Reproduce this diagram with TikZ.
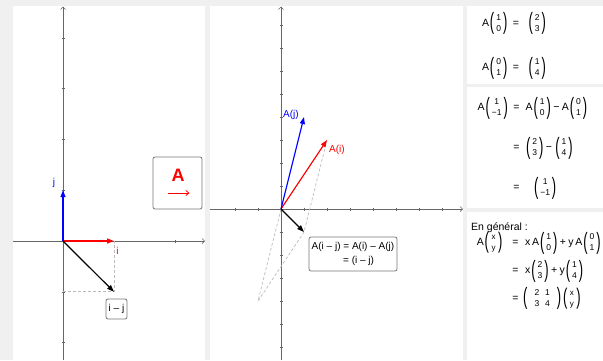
\documentclass[tikz,border=0pt]{standalone}
\usepackage{fontspec}
\setmainfont{Liberation Sans}
\usetikzlibrary{arrows.meta}
\definecolor{bgc}{HTML}{F0F0F0}
\definecolor{axc}{HTML}{666666}
\definecolor{dshc}{HTML}{BBBBBB}
\definecolor{boxc}{HTML}{777777}
% parentheses of given height
\newcommand{\mylp}[1]{\vcenter{\hbox{\resizebox*{4.3pt}{#1}{(}}}}
\newcommand{\myrp}[1]{\vcenter{\hbox{\resizebox*{4.3pt}{#1}{)}}}}
% column vector with digits
\newcommand{\vc}[2]{\mbox{\hspace{0.8pt}$\mylp{22pt}\vcenter{\hbox{\fontsize{8.5}{11}\selectfont\begin{tabular}{@{\hspace{2pt}}c@{\hspace{2pt}}}#1\\#2\end{tabular}}}\myrp{22pt}$}}
% column vector with letters
\newcommand{\vxy}{\mbox{\hspace{0.8pt}$\mylp{21pt}\vcenter{\hbox{\fontsize{8}{11}\selectfont\begin{tabular}{@{\hspace{2.5pt}}c@{\hspace{2.5pt}}}x\\y\end{tabular}}}\myrp{21pt}$}}
\newcommand{\mtwo}[4]{\mbox{$\mylp{22pt}\vcenter{\hbox{\fontsize{8.5}{11}\selectfont\begin{tabular}{@{\hspace{7pt}}c@{\hspace{6pt}}c@{\hspace{7pt}}}#1&#2\\#3&#4\end{tabular}}}\myrp{22pt}$}}
\newcommand{\mn}{\hspace{2.5pt}−\hspace{2.5pt}}
\newcommand{\pl}{\hspace{2.5pt}+\hspace{2.5pt}}
\tikzset{
  vec/.style={line width=1.2pt,-{Triangle[length=7pt,width=5pt]}},
  axis/.style={axc,line width=0.7pt,-{Straight Barb[length=2.5pt,width=5pt]}},
  tick/.style={axc,line width=0.6pt},
  helper/.style={dshc,line width=0.7pt,dash pattern=on 3pt off 2pt},
  lbl/.style={font=\fontsize{10}{12}\selectfont,inner sep=0pt},
  labbox/.style={draw=boxc,line width=0.8pt,rounded corners=2pt,fill=white},
  eq/.style={font=\fontsize{10.5}{12}\selectfont,inner sep=0pt}
}
\begin{document}
\begin{tikzpicture}[x=1pt,y=-1pt]
\useasboundingbox (0,0) rectangle (603,360);
% background and panels
\fill[bgc] (0,0) rectangle (603,360);
\fill[white] (13,6) rectangle (205,360);
\fill[white] (210,6) rectangle (463,360);
\fill[white] (467,6) rectangle (603,84);
\fill[white] (467,87) rectangle (603,208);
\fill[white] (467,212) rectangle (603,360);

% ---------- left panel ----------
\coordinate (O1) at (63,241);
\coordinate (I1) at (114,241);
\coordinate (J1) at (63,190.2);
\coordinate (IJ1) at (114,291.8);
\coordinate (X1a) at (13,241);
\coordinate (X1b) at (205,241);
\coordinate (Y1a) at (63,360);
\coordinate (Y1b) at (63,6.5);
\draw[axis] (X1a) -- (X1b);
\draw[axis] (Y1a) -- (Y1b);
\foreach \k in {-2,-1,1,2,3,4}
  \draw[tick] ({61.5},{241-50.8*\k}) -- ++(3,0);
\draw[tick] (175.7,239.5) -- ++(0,3);
\coordinate (H1) at (63,291.8);
\draw[helper] (H1) -- (IJ1) -- (I1);
\draw[vec,red] (O1) -- (I1);
\draw[vec,blue] (O1) -- (J1);
\draw[vec,black] (O1) -- (IJ1);
\node[lbl,text=blue] (jl) at (54,183) {j};
\node[lbl,text=red] (il) at (117.5,251) {i};
\node[labbox,minimum width=21pt,minimum height=20pt,inner sep=1pt,font=\fontsize{10}{12}\selectfont] (ijbox) at (116.5,309) {i – j};
% A box
\node[labbox,minimum width=49pt,minimum height=52pt,inner sep=0pt] (Abox) at (177.5,183) {};
\node[inner sep=0pt,text=red,font=\fontsize{18}{20}\selectfont\bfseries] (Aletter) at (178,175.5) {A};
\coordinate (ar1) at (168,193);
\coordinate (ar2) at (189.5,193);
\draw[red,line width=0.8pt,-{Straight Barb[length=3pt,width=5pt]}] (ar1) -- (ar2);

% ---------- middle panel ----------
\coordinate (O2) at (281,209);
\coordinate (Ai) at (327,140);
\coordinate (Aj) at (304,117);
\coordinate (Aij) at (304,232);
\coordinate (nAj) at (258,301);
\coordinate (X2a) at (210,209);
\coordinate (X2b) at (463,209);
\coordinate (Y2a) at (281,360);
\coordinate (Y2b) at (281,6.5);
\draw[axis] (X2a) -- (X2b);
\draw[axis] (Y2a) -- (Y2b);
\foreach \k in {-2,-1,1,2,3,4,5,6,7}
  \draw[tick] ({281+23*\k},207.5) -- ++(0,3);
\foreach \k in {-6,-5,-4,-3,-2,-1,1,2,3,4,5,6,7,8}
  \draw[tick] (279.5,{209-23*\k}) -- ++(3,0);
\draw[helper] (O2) -- (nAj) -- (Aij) -- (Ai);
\draw[vec,red] (O2) -- (Ai);
\draw[vec,blue] (O2) -- (Aj);
\draw[vec,black] (O2) -- (Aij);
\node[lbl,text=blue] (Ajl) at (291,115) {A(j)};
\node[lbl,text=red] (Ail) at (337,150) {A(i)};
\node[labbox,minimum width=88pt,minimum height=34pt,inner sep=0pt] (mbox) at (353,254) {};
\node[lbl] (ml1) at (353,247) {A(i – j) = A(i) – A(j)};
\node[lbl,anchor=west] (ml2) at (343,261) {= (i – j)};

% ---------- right panel 1 ----------
\node[eq,anchor=east] (r1l) at (507.5,23.5) {A\vc{1}{0}};
\node[eq] (r1e) at (516,23.5) {=};
\node[eq,anchor=west] (r1r) at (527.5,23.5) {\vc{2}{3}};
\node[eq,anchor=east] (r2l) at (507.5,68) {A\vc{0}{1}};
\node[eq] (r2e) at (516,68) {=};
\node[eq,anchor=west] (r2r) at (527.5,68) {\vc{1}{4}};

% ---------- right panel 2 ----------
\node[eq,anchor=east] (s1l) at (508,108) {A\vc{1}{−1}};
\node[eq] (s1e) at (516.5,108) {=};
\node[eq,anchor=west] (s1r) at (525.5,108) {A\vc{1}{0}\mn A\vc{0}{1}};
\node[eq] (s2e) at (516.5,148) {=};
\node[eq,anchor=west] (s2r) at (525,148) {\vc{2}{3}\mn\vc{1}{4}};
\node[eq] (s3e) at (516.5,188) {=};
\node[eq,anchor=west] (s3r) at (533,188) {\vc{1}{−1}};

% ---------- right panel 3 ----------
\node[eq,anchor=base west] (gen) at (471,230.5) {En général :};
\node[eq,anchor=east] (t1l) at (502.5,243) {A\vxy};
\node[eq] (t1e) at (515.5,243) {=};
\node[eq,anchor=west] (t1r) at (525,243) {x\,A\vc{1}{0}\pl y\,A\vc{0}{1}};
\node[eq] (t2e) at (515.5,271) {=};
\node[eq,anchor=west] (t2r) at (525,271) {x\vc{2}{3}\pl y\vc{1}{4}};
\node[eq] (t3e) at (515.5,298.5) {=};
\node[eq,anchor=west] (t3r) at (523,298.5) {\mtwo{2}{1}{3}{4}\hspace{1pt}\vxy};
\end{tikzpicture}
\end{document}
